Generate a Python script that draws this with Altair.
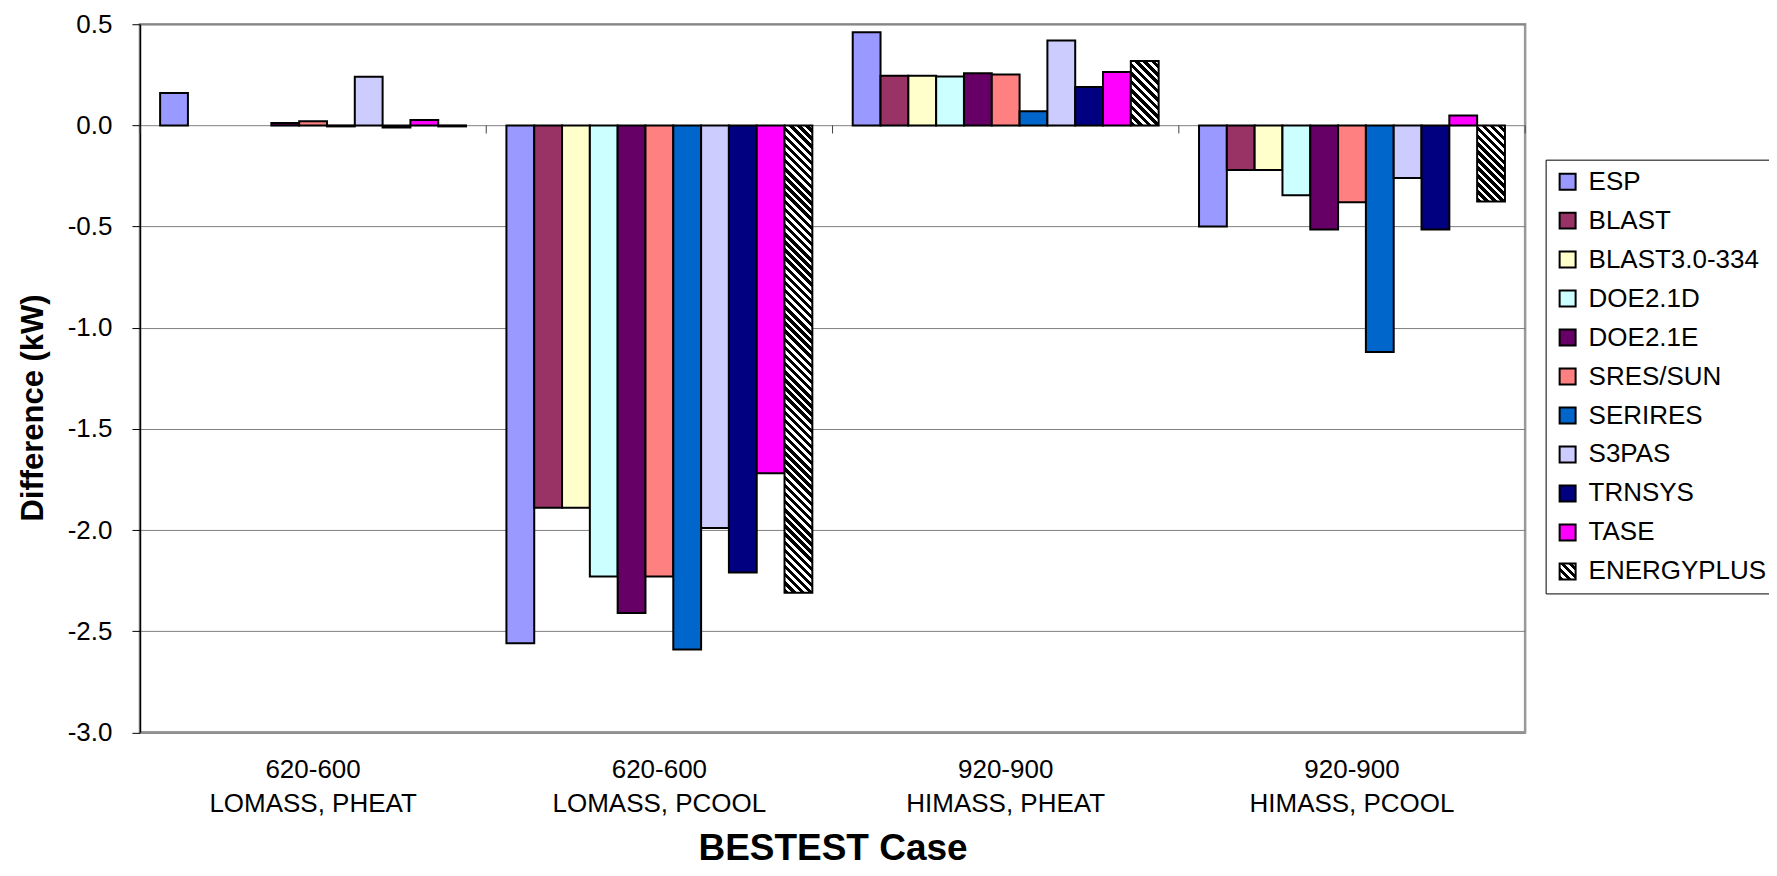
import math
import json
import altair as alt
import pandas as pd

# ---------------- data ----------------
cases = ["620-600|LOMASS, PHEAT", "620-600|LOMASS, PCOOL",
         "920-900|HIMASS, PHEAT", "920-900|HIMASS, PCOOL"]
programs = ["ESP", "BLAST", "BLAST3.0-334", "DOE2.1D", "DOE2.1E", "SRES/SUN",
            "SERIRES", "S3PAS", "TRNSYS", "TASE", "ENERGYPLUS"]

esp        = [0.16, -2.56, 0.46, -0.50]
blast      = [None, -1.89, 0.245, -0.22]
blast3     = [None, -1.89, 0.245, -0.22]
doe21d     = [None, -2.23, 0.242, -0.345]
doe21e     = [0.012, -2.41, 0.258, -0.514]
sres_sun   = [0.02, -2.23, 0.252, -0.38]
serires    = [-0.005, -2.59, 0.07, -1.12]
s3pas      = [0.24, -1.99, 0.42, -0.26]
trnsys     = [-0.01, -2.21, 0.19, -0.514]
tase       = [0.027, -1.72, 0.264, 0.049]
energyplus = [-0.005, -2.31, 0.318, -0.376]

series = [esp, blast, blast3, doe21d, doe21e, sres_sun, serires, s3pas,
          trnsys, tase, energyplus]

colors = ["#9999FF", "#993366", "#FFFFCC", "#CCFFFF", "#660066", "#FF8080",
          "#0066CC", "#CCCCFF", "#000080", "#FF00FF"]

rows = []
for prog, vals in zip(programs, series):
    for c, v in zip(cases, vals):
        rows.append({"case": c, "program": prog, "value": v})
df = pd.DataFrame(rows)

# ---------------- layout / style ----------------
PAD_TOP = 16
PLOT_W, PLOT_H = 1386, 708.5
Y_MIN, Y_MAX = -3.0, 0.5
PX_PER_UNIT = PLOT_H / (Y_MAX - Y_MIN)
PAD_INNER = 0.1166
STEP = PLOT_W / len(cases)
BAR_W = STEP * (1 - PAD_INNER) / len(programs)
GAP_HALF = STEP * PAD_INNER / 2
FONT = "Liberation Sans, Arial, sans-serif"


def hatch(w, h, period=5.7, black=0.55):
    """diagonal black/white stripes (\\) as a bbox-relative linear gradient"""
    w = max(w, 1.0)
    h = max(h, 1.0)
    n = max(1, round((w + h) / math.sqrt(2) / period))
    d = w * w + h * h
    x2 = w * (w + h) / d
    y2 = 1 - h * (w + h) / d
    stops = []
    for k in range(n):
        a, b, c = k / n, (k + black) / n, (k + 1) / n
        stops += [{"offset": round(a, 5), "color": "black"},
                  {"offset": round(b, 5), "color": "black"},
                  {"offset": round(b, 5), "color": "white"},
                  {"offset": round(c, 5), "color": "white"}]
    return {"gradient": "linear", "x1": 0, "y1": 1,
            "x2": round(x2, 5), "y2": round(y2, 5), "stops": stops}


legend_hatch = json.dumps(hatch(16, 16, period=5.7))
color_range = colors + [alt.ExprRef(expr=legend_hatch)]

x_enc = alt.X("case:N", sort=cases,
              scale=alt.Scale(paddingInner=PAD_INNER, paddingOuter=PAD_INNER / 2),
              axis=alt.Axis(title="BESTEST Case", labelExpr="split(datum.label, '|')",
                            labelAngle=0, ticks=False, domain=False, labelLimit=600,
                            labelPadding=45.5, labelBaseline="alphabetic",
                            labelLineHeight=34, labelFontSize=26, labelFont=FONT,
                            labelColor="black",
                            titleFont=FONT, titleFontSize=37, titleFontWeight="bold",
                            titleColor="black", titleBaseline="alphabetic",
                            titleY=127, titleAnchor="middle"))
xo_enc = alt.XOffset("program:N", sort=programs,
                     scale=alt.Scale(domain=programs, paddingInner=0, paddingOuter=0))
y_enc = alt.Y("value:Q",
              scale=alt.Scale(domain=[Y_MIN, Y_MAX], nice=False, zero=False),
              axis=alt.Axis(title="Difference (kW)", values=[-3, -2.5, -2, -1.5, -1, -0.5, 0, 0.5],
                            format=".1f", labelExpr="replace(datum.label, '\u2212', '-')",
                            labelFontSize=26, labelFont=FONT,
                            labelColor="black", labelPadding=20,
                            tickSize=8, tickColor="black", tickWidth=1,
                            domainColor="black", domainWidth=1.5,
                            grid=True, gridColor="#808080", gridWidth=1,
                            titleFont=FONT, titleFontSize=31, titleFontWeight="bold",
                            titleColor="black", titleAngle=-90, titleAlign="center",
                            titleBaseline="alphabetic", titleX=-97, titleY=383.5))

base = alt.Chart(df).encode(x=x_enc, xOffset=xo_enc, y=y_enc)

bars = base.mark_bar(stroke="black", strokeWidth=2, opacity=1).encode(
    color=alt.Color("program:N", sort=programs,
                    scale=alt.Scale(domain=programs, range=color_range),
                    legend=alt.Legend(title=None, orient="none", legendX=1406.5,
                                      legendY=135.5, direction="vertical",
                                      labelFont=FONT, labelFontSize=26,
                                      labelColor="black", labelLimit=400,
                                      symbolType="square", symbolSize=256,
                                      symbolStrokeColor="black", symbolStrokeWidth=2,
                                      symbolOpacity=1, rowPadding=13, labelOffset=8,
                                      padding=9, strokeColor="black",
                                      fillColor="white"))
).transform_filter(alt.datum.program != "ENERGYPLUS")

layers = [bars]
for c, v in zip(cases, energyplus):
    if v is None:
        continue
    h = abs(v) * PX_PER_UNIT
    layers.append(
        base.mark_bar(fill=hatch(BAR_W, h), stroke="black", strokeWidth=2)
        .transform_filter((alt.datum.program == "ENERGYPLUS") & (alt.datum.case == c))
    )

# small category tick marks on the zero line, between groups
tick_df = pd.DataFrame({"case": cases})
tick_left = alt.Chart(tick_df).mark_rule(
    color="#404040", strokeWidth=1, xOffset=-GAP_HALF).encode(
    x=alt.X("case:N", sort=cases, bandPosition=0),
    y=alt.datum(0), y2=alt.datum(-0.04))
tick_right = alt.Chart(tick_df[tick_df["case"] == cases[-1]]).mark_rule(
    color="#404040", strokeWidth=1, xOffset=GAP_HALF).encode(
    x=alt.X("case:N", sort=cases, bandPosition=1),
    y=alt.datum(0), y2=alt.datum(-0.04))
layers += [tick_left, tick_right]

chart = alt.layer(*layers).properties(
    width=PLOT_W, height=PLOT_H,
    autosize=alt.AutoSizeParams(type="none"),
    padding={"left": 132, "top": PAD_TOP, "right": 244, "bottom": 135.5},
    background="white",
).configure_view(stroke="#999999", strokeWidth=2.5)

chart.save("out.html", embed_options={"renderer": "svg", "actions": False})
